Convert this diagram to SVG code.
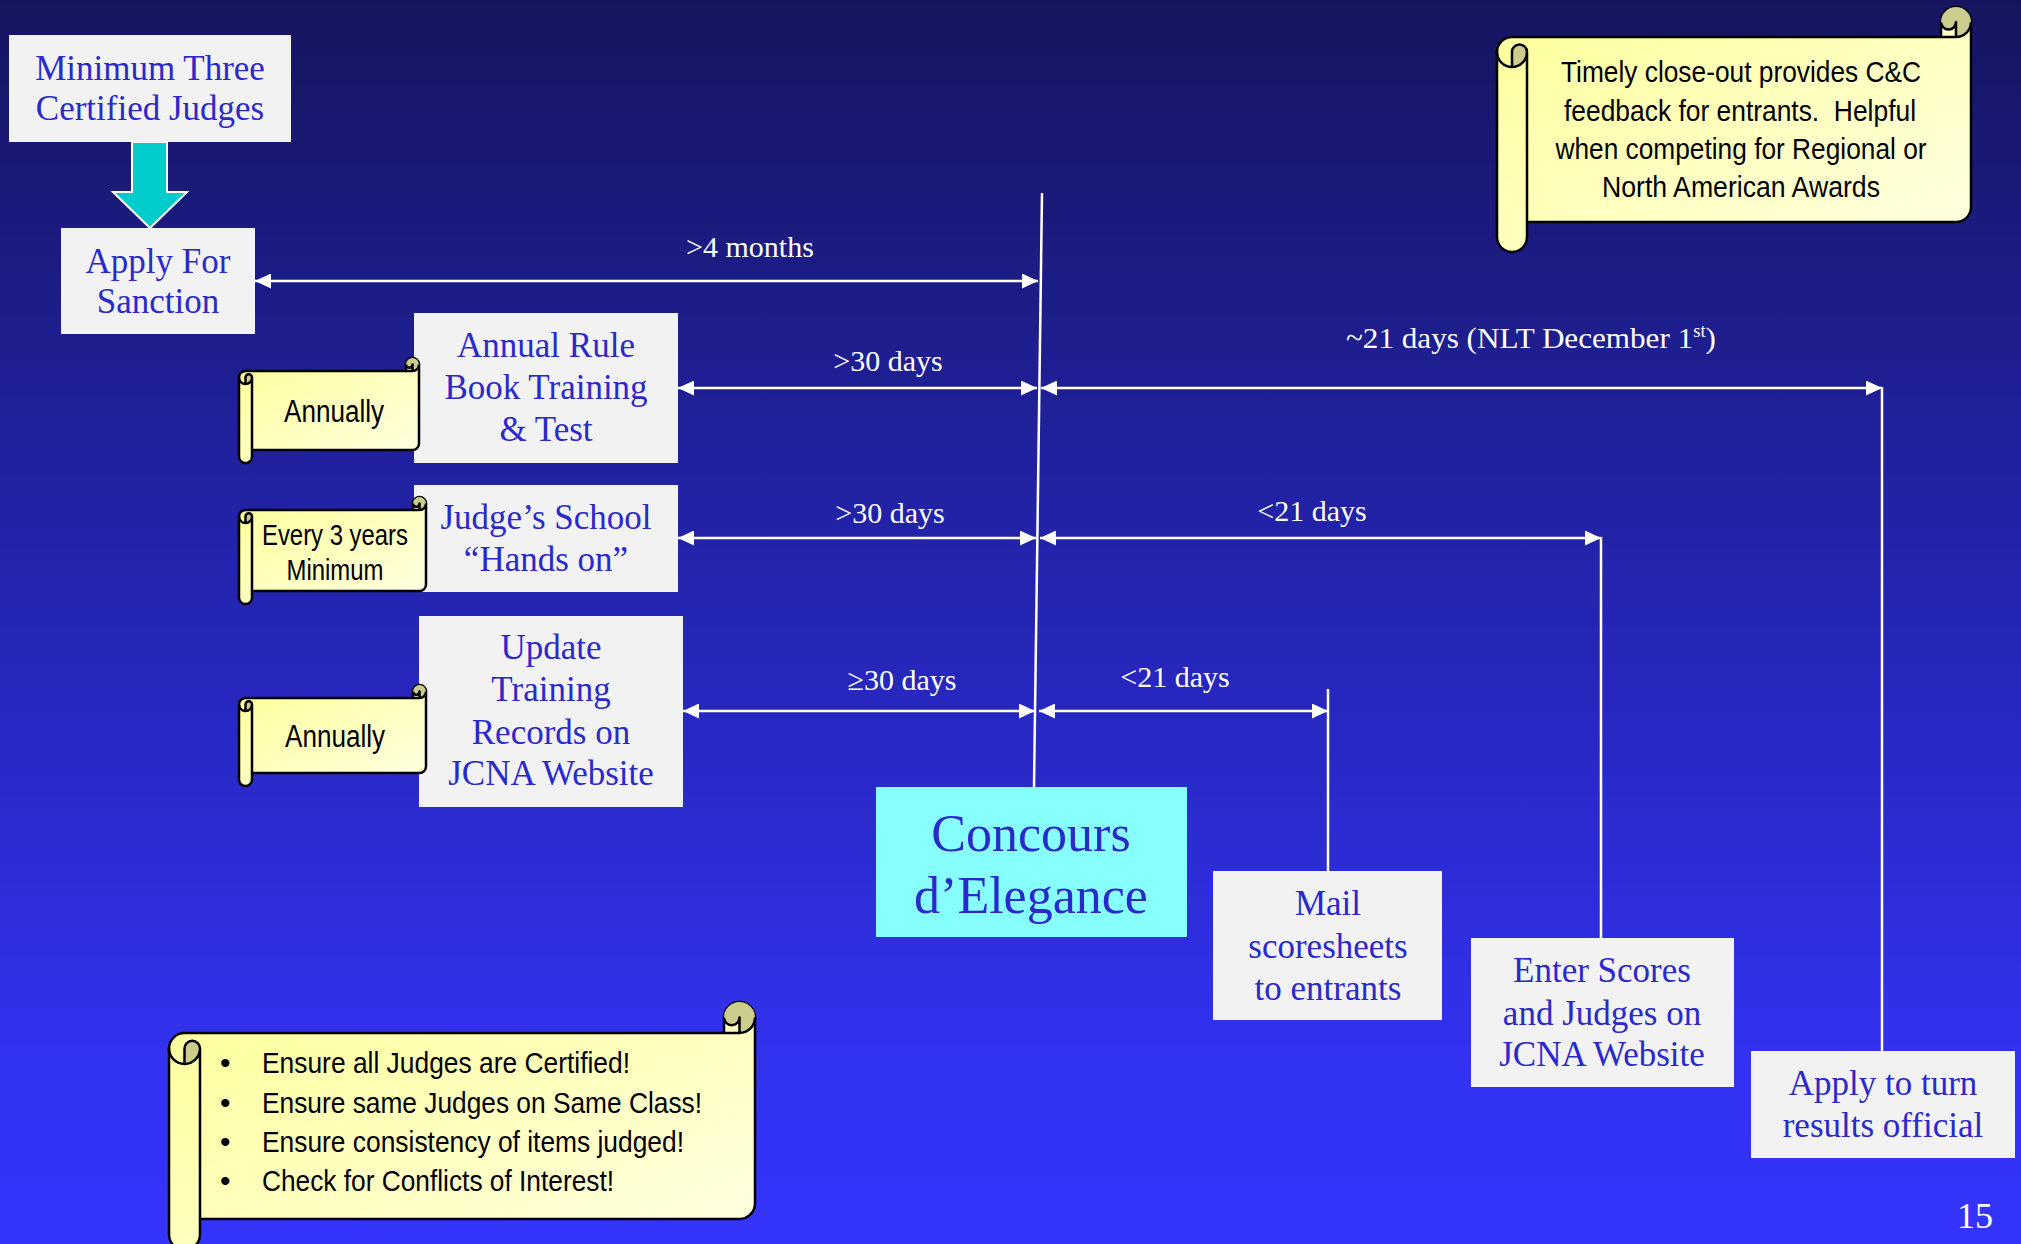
<svg xmlns="http://www.w3.org/2000/svg" width="2021" height="1244" viewBox="0 0 2021 1244">
<defs>
<linearGradient id="bg" x1="0" y1="0" x2="0" y2="1">
<stop offset="0" stop-color="#15155f"/>
<stop offset="0.5" stop-color="#2525b5"/>
<stop offset="0.85" stop-color="#3232f0"/>
<stop offset="1" stop-color="#3434fd"/>
</linearGradient>
<linearGradient id="scrollFill" x1="0" y1="0" x2="1" y2="1">
<stop offset="0" stop-color="#ffff99"/>
<stop offset="1" stop-color="#ffffe4"/>
</linearGradient>
<marker id="ah" viewBox="0 0 16 15" refX="16" refY="7.5" markerWidth="16" markerHeight="15" markerUnits="userSpaceOnUse" orient="auto-start-reverse">
<path d="M0,0 L16,7.5 L0,15 Z" fill="#ffffff"/>
</marker>
<style>
.box{fill:#f2f2f2}
.bt{font-family:"Liberation Serif","Times New Roman",serif;font-size:35px;fill:#2929cc;text-anchor:middle}
.lbl{font-family:"Liberation Serif","Times New Roman",serif;font-size:30px;fill:#ffffff;text-anchor:middle}
.st{font-family:"Liberation Sans",Arial,sans-serif;font-size:30px;fill:#000000}
.stc{text-anchor:middle}
.sc{fill:url(#scrollFill);stroke:#000;stroke-width:2.5;stroke-linejoin:round}
.dk{fill:#cccc8e;stroke:none}
.ln{fill:none;stroke:#000;stroke-width:2.5;stroke-linejoin:round}
.wl{stroke:#ffffff;stroke-width:2.5;fill:none}
.arr{stroke:#ffffff;stroke-width:2.5;fill:none;marker-start:url(#ah);marker-end:url(#ah)}
</style>
</defs>
<rect x="0" y="0" width="2021" height="1244" fill="url(#bg)"/>

<g id="connectors">
<path id="teal-arrow" d="M132,142 L167,142 L167,192 L187,192 L150,228 L113,192 L132,192 Z" fill="#00cccc" stroke="#ffffff" stroke-width="2"/>
<line class="wl" x1="1042" y1="193" x2="1034" y2="787"/>
<line class="arr" x1="255" y1="281" x2="1038" y2="281"/>
<line class="arr" x1="678" y1="388" x2="1037" y2="388"/>
<line class="arr" x1="1041" y1="388" x2="1882" y2="388"/>
<line class="wl" x1="1882" y1="387" x2="1882" y2="1051"/>
<line class="arr" x1="678" y1="538" x2="1036" y2="538"/>
<line class="arr" x1="1040" y1="538" x2="1601" y2="538"/>
<line class="wl" x1="1601" y1="537" x2="1601" y2="938"/>
<line class="arr" x1="683" y1="711" x2="1035" y2="711"/>
<line class="arr" x1="1039" y1="711" x2="1328" y2="711"/>
<line class="wl" x1="1328" y1="689" x2="1328" y2="871"/>
<text class="lbl" x="750" y="257">&gt;4 months</text>
<text class="lbl" x="888" y="371">&gt;30 days</text>
<text class="lbl" x="1531" y="348" textLength="370" lengthAdjust="spacingAndGlyphs">~21 days (NLT December 1<tspan font-size="18" dy="-11">st</tspan><tspan dy="11">)</tspan></text>
<text class="lbl" x="890" y="523">&gt;30 days</text>
<text class="lbl" x="1312" y="521">&lt;21 days</text>
<text class="lbl" x="902" y="690">≥30 days</text>
<text class="lbl" x="1175" y="687">&lt;21 days</text>
</g>

<g id="node-min-judges">
<rect class="box" x="9" y="35" width="282" height="107"/>
<text class="bt" x="150" y="80">Minimum Three</text>
<text class="bt" x="150" y="120">Certified Judges</text>
</g>
<g id="node-apply-sanction">
<rect class="box" x="61" y="228" width="194" height="106"/>
<text class="bt" x="158" y="273">Apply For</text>
<text class="bt" x="158" y="313">Sanction</text>
</g>
<g id="node-rule-book">
<rect class="box" x="414" y="313" width="264" height="150"/>
<text class="bt" x="546" y="357">Annual Rule</text>
<text class="bt" x="546" y="399">Book Training</text>
<text class="bt" x="546" y="441">&amp; Test</text>
</g>
<g id="node-judges-school">
<rect class="box" x="414" y="485" width="264" height="107"/>
<text class="bt" x="546" y="529">Judge’s School</text>
<text class="bt" x="546" y="571">“Hands on”</text>
</g>
<g id="node-update-training">
<rect class="box" x="419" y="616" width="264" height="191"/>
<text class="bt" x="551" y="659">Update</text>
<text class="bt" x="551" y="701">Training</text>
<text class="bt" x="551" y="744">Records on</text>
<text class="bt" x="551" y="785">JCNA Website</text>
</g>
<g id="node-concours">
<rect x="876" y="787" width="311" height="150" fill="#88ffff"/>
<text class="bt" x="1031" y="851" style="font-size:52px">Concours</text>
<text class="bt" x="1031" y="913" style="font-size:52px">d’Elegance</text>
</g>
<g id="node-mail">
<rect class="box" x="1213" y="871" width="229" height="149"/>
<text class="bt" x="1328" y="915">Mail</text>
<text class="bt" x="1328" y="958">scoresheets</text>
<text class="bt" x="1328" y="1000">to entrants</text>
</g>
<g id="node-enter-scores">
<rect class="box" x="1471" y="938" width="263" height="149"/>
<text class="bt" x="1602" y="982">Enter Scores</text>
<text class="bt" x="1602" y="1025">and Judges on</text>
<text class="bt" x="1602" y="1066">JCNA Website</text>
</g>
<g id="node-apply-official">
<rect class="box" x="1751" y="1051" width="264" height="107"/>
<text class="bt" x="1883" y="1095">Apply to turn</text>
<text class="bt" x="1883" y="1137">results official</text>
</g>

<g id="scroll-annually-1">
<path class="sc" d="M239,377.5 A6.5 6.5 0 0 1 245.5,371 L406,371 L406,364.5 A6.5 6.5 0 0 1 419,364.5 L419,443.5 A6.5 6.5 0 0 1 412.5,450 L252,450 L252,456.5 A6.5 6.5 0 0 1 239,456.5 Z"/>
<path class="dk" d="M245.5,384 A6.5 6.5 0 0 0 252,377.5 A3.25 3.25 0 0 0 245.5,377.5 Z M412.5,371 A6.5 6.5 0 0 0 419,364.5 A6.5 6.5 0 0 0 406,364.5 A3.25 3.25 0 0 0 412.5,364.5 Z"/>
<path class="ln" d="M252,377.5 L252,450 M245.5,384 L245.5,377.5 A3.25 3.25 0 0 1 252,377.5 A6.5 6.5 0 0 1 239,377.5 M406,371 L412.5,371 A6.5 6.5 0 0 0 419,364.5 M412.5,371 L412.5,364.5 A3.25 3.25 0 0 1 406,364.5"/>
<text class="st stc" x="334" y="422" style="font-size:31px" textLength="100" lengthAdjust="spacingAndGlyphs">Annually</text>
</g>
<g id="scroll-every-3-years">
<path class="sc" d="M239,516.5 A6.5 6.5 0 0 1 245.5,510 L413,510 L413,503.5 A6.5 6.5 0 0 1 426,503.5 L426,584.5 A6.5 6.5 0 0 1 419.5,591 L252,591 L252,597.5 A6.5 6.5 0 0 1 239,597.5 Z"/>
<path class="dk" d="M245.5,523 A6.5 6.5 0 0 0 252,516.5 A3.25 3.25 0 0 0 245.5,516.5 Z M419.5,510 A6.5 6.5 0 0 0 426,503.5 A6.5 6.5 0 0 0 413,503.5 A3.25 3.25 0 0 0 419.5,503.5 Z"/>
<path class="ln" d="M252,516.5 L252,591 M245.5,523 L245.5,516.5 A3.25 3.25 0 0 1 252,516.5 A6.5 6.5 0 0 1 239,516.5 M413,510 L419.5,510 A6.5 6.5 0 0 0 426,503.5 M419.5,510 L419.5,503.5 A3.25 3.25 0 0 1 413,503.5"/>
<text class="st stc" x="335" y="545" textLength="146" lengthAdjust="spacingAndGlyphs">Every 3 years</text>
<text class="st stc" x="335" y="580" textLength="97" lengthAdjust="spacingAndGlyphs">Minimum</text>
</g>
<g id="scroll-annually-2">
<path class="sc" d="M239,704.5 A6.5 6.5 0 0 1 245.5,698 L413,698 L413,691.5 A6.5 6.5 0 0 1 426,691.5 L426,766.5 A6.5 6.5 0 0 1 419.5,773 L252,773 L252,779.5 A6.5 6.5 0 0 1 239,779.5 Z"/>
<path class="dk" d="M245.5,711 A6.5 6.5 0 0 0 252,704.5 A3.25 3.25 0 0 0 245.5,704.5 Z M419.5,698 A6.5 6.5 0 0 0 426,691.5 A6.5 6.5 0 0 0 413,691.5 A3.25 3.25 0 0 0 419.5,691.5 Z"/>
<path class="ln" d="M252,704.5 L252,773 M245.5,711 L245.5,704.5 A3.25 3.25 0 0 1 252,704.5 A6.5 6.5 0 0 1 239,704.5 M413,698 L419.5,698 A6.5 6.5 0 0 0 426,691.5 M419.5,698 L419.5,691.5 A3.25 3.25 0 0 1 413,691.5"/>
<text class="st stc" x="335" y="747" style="font-size:31px" textLength="100" lengthAdjust="spacingAndGlyphs">Annually</text>
</g>
<g id="scroll-closeout">
<path class="sc" d="M1497,52 A15 15 0 0 1 1512,37 L1941,37 L1941,22 A15 15 0 0 1 1971,22 L1971,207 A15 15 0 0 1 1956,222 L1527,222 L1527,237 A15 15 0 0 1 1497,237 Z"/>
<path class="dk" d="M1512,67 A15 15 0 0 0 1527,52 A7.5 7.5 0 0 0 1512,52 Z M1956,37 A15 15 0 0 0 1971,22 A15 15 0 0 0 1941,22 A7.5 7.5 0 0 0 1956,22 Z"/>
<path class="ln" d="M1527,52 L1527,222 M1512,67 L1512,52 A7.5 7.5 0 0 1 1527,52 A15 15 0 0 1 1497,52 M1941,37 L1956,37 A15 15 0 0 0 1971,22 M1956,37 L1956,22 A7.5 7.5 0 0 1 1941,22"/>
<text class="st stc" x="1741" y="82" style="font-size:29.5px" textLength="360" lengthAdjust="spacingAndGlyphs">Timely close-out provides C&amp;C</text>
<text class="st stc" x="1740" y="121" style="font-size:29.5px" textLength="352" lengthAdjust="spacingAndGlyphs" xml:space="preserve">feedback for entrants.  Helpful</text>
<text class="st stc" x="1741" y="159" style="font-size:29.5px" textLength="371" lengthAdjust="spacingAndGlyphs">when competing for Regional or</text>
<text class="st stc" x="1741" y="197" style="font-size:29.5px" textLength="278" lengthAdjust="spacingAndGlyphs">North American Awards</text>
</g>
<g id="scroll-checklist">
<path class="sc" d="M169,1048.5 A15.5 15.5 0 0 1 184.5,1033 L724,1033 L724,1017.5 A15.5 15.5 0 0 1 755,1017.5 L755,1203.5 A15.5 15.5 0 0 1 739.5,1219 L200,1219 L200,1234.5 A15.5 15.5 0 0 1 169,1234.5 Z"/>
<path class="dk" d="M184.5,1064 A15.5 15.5 0 0 0 200,1048.5 A7.75 7.75 0 0 0 184.5,1048.5 Z M739.5,1033 A15.5 15.5 0 0 0 755,1017.5 A15.5 15.5 0 0 0 724,1017.5 A7.75 7.75 0 0 0 739.5,1017.5 Z"/>
<path class="ln" d="M200,1048.5 L200,1219 M184.5,1064 L184.5,1048.5 A7.75 7.75 0 0 1 200,1048.5 A15.5 15.5 0 0 1 169,1048.5 M724,1033 L739.5,1033 A15.5 15.5 0 0 0 755,1017.5 M739.5,1033 L739.5,1017.5 A7.75 7.75 0 0 1 724,1017.5"/>
<g class="st">
<text x="220" y="1073">•</text>
<text x="262" y="1073" textLength="368" lengthAdjust="spacingAndGlyphs">Ensure all Judges are Certified!</text>
<text x="220" y="1113">•</text>
<text x="262" y="1113" textLength="440" lengthAdjust="spacingAndGlyphs">Ensure same Judges on Same Class!</text>
<text x="220" y="1152">•</text>
<text x="262" y="1152" textLength="422" lengthAdjust="spacingAndGlyphs">Ensure consistency of items judged!</text>
<text x="220" y="1191">•</text>
<text x="262" y="1191" textLength="352" lengthAdjust="spacingAndGlyphs">Check for Conflicts of Interest!</text>
</g>
</g>
<text x="1957" y="1228" font-family="Liberation Serif, Times New Roman, serif" font-size="36" fill="#ffffff">15</text>
</svg>
